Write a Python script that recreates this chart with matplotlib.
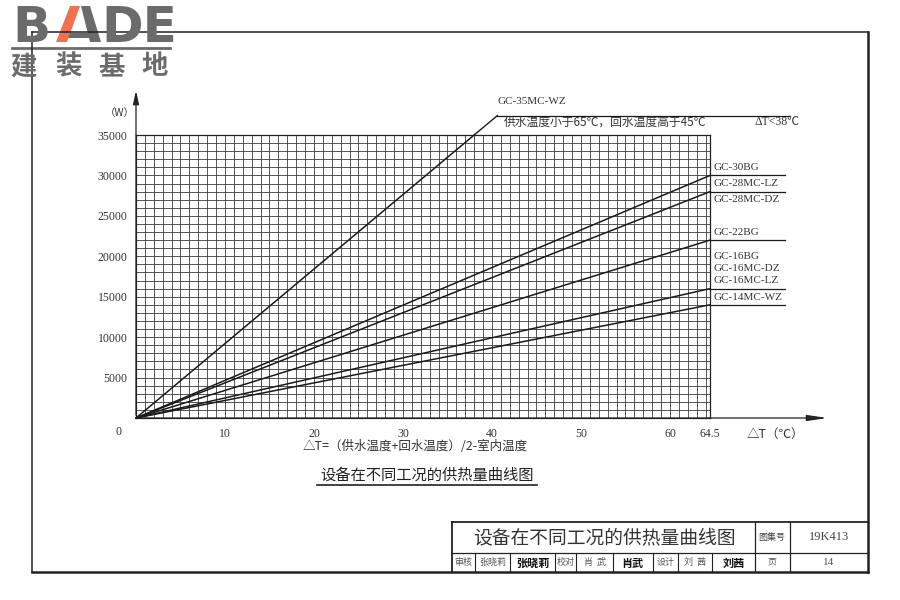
import matplotlib
matplotlib.use('Agg')
import matplotlib.pyplot as plt
import numpy as np
from matplotlib.patches import Polygon
from matplotlib.lines import Line2D

FONT = ['Liberation Serif', 'Noto Sans CJK SC', 'DejaVu Sans']
CJK = ['Noto Sans CJK SC', 'DejaVu Sans']
plt.rcParams['font.family'] = FONT

# ---------------- data ----------------
series_names = ["GC-35MC-WZ", "GC-30BG", "GC-28MC", "GC-22BG", "GC-16", "GC-14MC-WZ"]
series_dt = [[0, 38.0], [0, 64.5], [0, 64.5], [0, 64.5], [0, 64.5], [0, 64.5]]
series_w = [[0, 35000], [0, 30000], [0, 28000], [0, 22000], [0, 16000], [0, 14000]]
labels_above = [[], ["GC-30BG"], ["GC-28MC-LZ"], ["GC-22BG"],
                ["GC-16BG", "GC-16MC-DZ", "GC-16MC-LZ"], ["GC-14MC-WZ"]]
labels_below = [[], [], ["GC-28MC-DZ"], [], [], []]
x_ticks = [10, 20, 30, 40, 50, 60, 64.5]
x_ticklabels = ["10", "20", "30", "40", "50", "60", "64.5"]
y_ticks = [5000, 10000, 15000, 20000, 25000, 30000, 35000]
y_ticklabels = ["5000", "10000", "15000", "20000", "25000", "30000", "35000"]
x_max, y_max = 64.5, 35000
note_text = "供水温度小于65℃，回水温度高于45℃"
note_dt = "ΔT<38℃"
x_label = "△T=（供水温度+回水温度）/2-室内温度"
x_unit = "△T（℃）"
y_unit = "（W）"
chart_title = "设备在不同工况的供热量曲线图"
atlas_no = "19K413"
page_no = "14"
sign_cells = ["审核", "张晓莉", "张晓莉", "校对", "肖  武", "肖武", "设计", "刘  茜", "刘茜", "页", page_no]
logo_chars = ["建", "装", "基", "地"]

W, H = 900, 600
fig = plt.figure(figsize=(9, 6), dpi=100)
fig.patch.set_facecolor('white')

def fx(x):
    return x / W

def fy(y):
    return 1 - y / H

def fline(xs, ys, lw=1.0, color='#222222'):
    fig.add_artist(Line2D([fx(x) for x in xs], [fy(y) for y in ys],
                          transform=fig.transFigure, lw=lw, color=color))

# ---------------- chart ----------------
ax = fig.add_axes([fx(136), fy(418), (710 - 136) / W, (418 - 135) / H])
ax.set_xlim(0, x_max)
ax.set_ylim(0, y_max)
ax.set_xticks(np.arange(0, 65, 1), minor=True)
ax.set_yticks(np.arange(0, 35001, 1000), minor=True)
ax.set_xticks(x_ticks)
ax.set_xticklabels(x_ticklabels, fontsize=8.5, color='#333333')
ax.set_yticks(y_ticks)
ax.set_yticklabels(y_ticklabels, fontsize=8.5, color='#333333')
ax.tick_params(which='both', length=0)
ax.tick_params(axis='x', pad=7)
ax.tick_params(axis='y', pad=6)
ax.grid(which='both', color='#3a3a3a', lw=0.6)
ax.set_axisbelow(True)
for s in ax.spines.values():
    s.set_color('#222222')
    s.set_linewidth(0.9)

linecol = '#1a1a1a'
for i, name in enumerate(series_names):
    ax.plot(series_dt[i], series_w[i], color=linecol, lw=1.1, clip_on=False, zorder=3)

# leader for first series
x0, w0 = series_dt[0][-1], series_w[0][-1]
w_lead = 37400
x_lead = x0 * w_lead / w0
ax.plot([x0, x_lead], [w0, w_lead], color=linecol, lw=1.0, clip_on=False)
x_right_lead = (790 - 136) / 574 * x_max
ax.plot([x_lead, x_right_lead], [w_lead, w_lead], color=linecol, lw=0.9, clip_on=False)
ax.annotate(series_names[0], xy=(x_lead, w_lead), xytext=(0, 10), textcoords='offset points',
            fontsize=8, color='#333333', va='center', ha='left', annotation_clip=False)
ax.annotate(note_text, xy=(x_lead, w_lead), xytext=(4.5, -4.5), textcoords='offset points',
            fontsize=8.5, color='#333333', va='center', ha='left', family=CJK,
            annotation_clip=False)
ax.annotate(note_dt, xy=(x_lead, w_lead), xytext=(185, -4.5), textcoords='offset points',
            fontsize=8.5, color='#333333', va='center', ha='left', annotation_clip=False)

# label leaders at the right
x_right = (785 - 136) / 574
for i in range(1, len(series_names)):
    wend = series_w[i][-1]
    ax.plot([1.0, x_right], [wend, wend], transform=ax.get_yaxis_transform(),
            color=linecol, lw=0.9, clip_on=False)
    ab = labels_above[i]
    for k, lab in enumerate(ab):
        off = 5.5 + (len(ab) - 1 - k) * 8.8
        ax.annotate(lab, xy=(x_max, wend), xytext=(2.5, off), textcoords='offset points',
                    fontsize=8, color='#333333', va='center', ha='left', annotation_clip=False)
    for k, lab in enumerate(labels_below[i]):
        off = -5.5 - k * 8.8
        ax.annotate(lab, xy=(x_max, wend), xytext=(2.5, off), textcoords='offset points',
                    fontsize=8, color='#333333', va='center', ha='left', annotation_clip=False)

# axis arrows
ax.annotate('', xy=((830 - 136) / 574, 0), xytext=(0, 0), xycoords='axes fraction',
            arrowprops=dict(arrowstyle='-|>,head_length=1.2,head_width=0.18', color='#222222', lw=0.9),
            annotation_clip=False)
ax.annotate('', xy=(0, (418 - 88) / 283), xytext=(0, 0), xycoords='axes fraction',
            arrowprops=dict(arrowstyle='-|>,head_length=0.8,head_width=0.18', color='#222222', lw=0.9),
            annotation_clip=False)

fig.text(fx(118), fy(432), "0", fontsize=8.5, color='#333333', ha='center', va='center')
fig.text(fx(120), fy(113), y_unit, fontsize=7.5, color='#333333', ha='center', va='center', family=CJK)
fig.text(fx(775), fy(434), x_unit, fontsize=9, color='#333333', ha='center', va='center', family=CJK)
fig.text(fx(415), fy(446), x_label, fontsize=9, color='#333333', ha='center', va='center', family=CJK)

# subtitle with underline
fig.text(fx(427), fy(475), chart_title, fontsize=11, color='#222222', ha='center', va='center', family=CJK)
fline([317, 537], [485, 485], lw=1.2)

# ---------------- logo (behind frame) ----------------
logo_gray = '#6b6b6b'
fig.text(fx(12), fy(42), "B", fontsize=36, fontweight='bold', color=logo_gray,
         family='DejaVu Sans', ha='left', va='baseline')
fig.text(fx(101), fy(42), "DE", fontsize=36, fontweight='bold', color=logo_gray,
         family='DejaVu Sans', ha='left', va='baseline')
fig.add_artist(Polygon([[fx(56), fy(42)], [fx(67), fy(42)], [fx(80), fy(6)], [fx(70), fy(6)]],
                       closed=True, transform=fig.transFigure, facecolor='#f07050', edgecolor='none'))
fig.add_artist(Polygon([[fx(81), fy(6)], [fx(90), fy(6)], [fx(101), fy(42)], [fx(90), fy(42)]],
                       closed=True, transform=fig.transFigure, facecolor=logo_gray, edgecolor='none'))
fig.add_artist(Polygon([[fx(70), fy(33)], [fx(94), fy(33)], [fx(96), fy(38)], [fx(68), fy(38)]],
                       closed=True, transform=fig.transFigure, facecolor=logo_gray, edgecolor='none'))
fline([12, 170], [48, 48], lw=2.0, color=logo_gray)
for cx, ch in zip([24, 68, 112, 155], logo_chars):
    fig.text(fx(cx), fy(67), ch, fontsize=19, fontweight='bold', color=logo_gray,
             family=CJK, ha='center', va='center')

# ---------------- outer frame ----------------
fline([32, 868], [32, 32], lw=1.1)
fline([32, 32], [32, 572], lw=1.1)
fline([868, 868], [32, 572], lw=1.8)
fline([32, 868], [572, 572], lw=1.8)

# ---------------- title block ----------------
fline([452, 868], [522, 522], lw=1.3)
fline([452, 452], [522, 572], lw=1.3)
fline([452, 868], [553, 553], lw=0.9)
for xe in [755, 790]:
    fline([xe, xe], [522, 572], lw=0.9)
row2 = [452, 475, 510, 555, 576, 613, 653, 678, 712, 755, 790, 868]
for xe in row2[1:-3]:
    fline([xe, xe], [553, 572], lw=0.8)
fig.text(fx(604), fy(538), chart_title, fontsize=13.5, color='#333333', ha='center', va='center', family=CJK)
fig.text(fx(772), fy(537), "图集号", fontsize=6.5, color='#444444', ha='center', va='center', family=CJK)
fig.text(fx(829), fy(537), atlas_no, fontsize=9, color='#444444', ha='center', va='center')
for k, txt in enumerate(sign_cells):
    cx = (row2[k] + row2[k + 1]) / 2
    if k in (2, 5, 8):
        fig.text(fx(cx), fy(563), txt, fontsize=8, color='#111111', ha='center', va='center',
                 family=CJK, fontweight='bold', style='italic')
    else:
        fig.text(fx(cx), fy(562.5), txt, fontsize=6.5 if k != 10 else 8,
                 color='#555555', ha='center', va='center', family=CJK if k != 10 else FONT)

fig.savefig('out.png', dpi=100)
